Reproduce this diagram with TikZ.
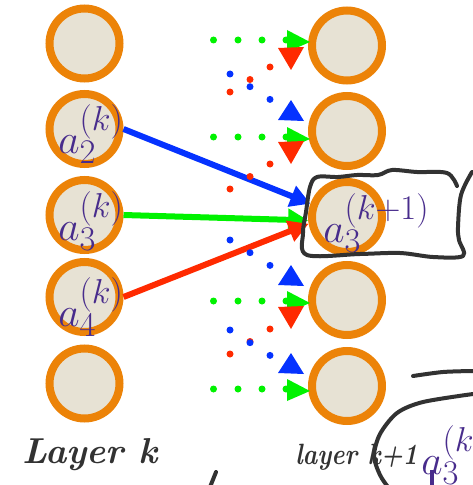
\documentclass[tikz,border=0pt]{standalone}
\usepackage{graphicx}
\usetikzlibrary{arrows.meta}

\definecolor{ringorange}{RGB}{236,131,8}
\definecolor{cellfill}{RGB}{231,226,212}
\definecolor{wblue}{RGB}{5,50,255}
\definecolor{wgreen}{RGB}{0,242,0}
\definecolor{wred}{RGB}{255,42,0}
\definecolor{actpurple}{RGB}{72,44,140}
\definecolor{ink}{RGB}{50,50,50}

% activation label, math is capped at 24.88pt so blow it up
\newcommand{\actlabel}[1]{\scalebox{1.25}{$#1$}}

\tikzset{
  neuron/.style={circle, draw=ringorange, fill=cellfill, line width=6pt, minimum size=52.5pt, inner sep=0pt},
  act/.style={text=actpurple, font=\fontsize{24.88}{28}\selectfont, inner sep=0pt, anchor=base west},
  weight/.style={line width=4.5pt, -{Triangle[length=15pt,width=16pt]}},
  dotw/.style={radius=3.5},
  hand/.style={draw=ink, line width=3pt, line cap=round, line join=round},
  handtext/.style={text=ink, inner sep=0pt, anchor=base west},
}

\begin{document}
\begin{tikzpicture}[x=0.75pt,y=0.75pt,yscale=-1]
\useasboundingbox (0,0) rectangle (473,485);
\clip (0,0) rectangle (473,485);

%Shape: Circle - layer k
\foreach \i/\y in {1/43.5,2/129,3/215,4/297,5/383.5}
  \node[neuron] (l\i) at (84.5,\y) {};
%Shape: Circle - layer k+1
\foreach \i/\y in {1/45.5,2/131,3/217,4/300,5/386}
  \node[neuron] (r\i) at (347,\y) {};

% Text Node
\node[act] (a2) at (58,153) {\actlabel{a_2^{(k)}}};
\node[act] (a3) at (58,240) {\actlabel{a_3^{(k)}}};
\node[act] (a4) at (58,326) {\actlabel{a_4^{(k)}}};
\node[act] (a3next) at (323,242) {\actlabel{a_3^{(k+1)}}};

%Straight Lines - weights into a_3^(k+1)
\draw[weight, wblue] (l2.east) -- (r3.160);
\draw[weight, wgreen] (l3.east) -- (r3.185);
\draw[weight, wred] (l4.east) -- (r3.190);

%Dotted weights - red, coming up from below
\foreach \y in {92,189,354}
  \foreach \k in {0,1,2}
    \fill[wred] (230+20*\k,\y-12.5*\k) circle[dotw];
%Dotted weights - blue, coming down from above
\foreach \y in {74,240,330}
  \foreach \k in {0,1,2}
    \fill[wblue] (230+20*\k,\y+12.7*\k) circle[dotw];
%Dotted weights - green, straight across
\foreach \y in {40,137,301,389} {
  \foreach \x in {213.5,238,262,286}
    \fill[wgreen] (\x,\y) circle[dotw];
  \fill[wgreen] (287,\y-10) -- (310,\y+2) -- (287,\y+12) -- cycle;
}
%Triangles - red heads
\foreach \t in {48,142,307}
  \fill[wred] (278,\t) -- (304,\t-1) -- (291,\t+22) -- cycle;
%Triangles - blue heads
\foreach \a in {100,265,353}
  \fill[wblue] (291,\a) -- (304,\a+21) -- (278,\a+20) -- cycle;

%Curve Lines - pen box round a_3^(k+1)
\draw[hand] plot[smooth, tension=0.55] coordinates {(457,186) (447,173) (417,172) (392,170) (378,175) (357,175) (338,177) (317,177) (310,187) (306,212) (303,233) (307,255) (360,254) (400,253) (433,257) (463,256) (459,240) (458,227) (461,195) (472,172)};
%Curve Lines - pen strokes bottom right
\draw[hand] plot[smooth] coordinates {(413,376) (443,372) (473,371)};
\draw[hand] plot[smooth] coordinates {(473,394) (423,402) (397,413) (380,434) (374,456) (380,475) (388,487)};
\draw[hand] (216,472) -- (210,487);

% Text Node
\node[handtext, font=\fontsize{27}{31}\selectfont\bfseries\itshape] (lk) at (22,463) {Layer k};
\node[handtext, font=\fontsize{22}{26}\selectfont\bfseries\itshape] (lk1) at (295,464) {\scalebox{0.85}[1]{layer k+1}};

% Text Node - half typed label
\node[act] (a3typed) at (421,474) {\actlabel{a_3^{(k+1)}}};
\draw[actpurple, line width=3pt] (432,470) -- (432,487);

\end{tikzpicture}
\end{document}
